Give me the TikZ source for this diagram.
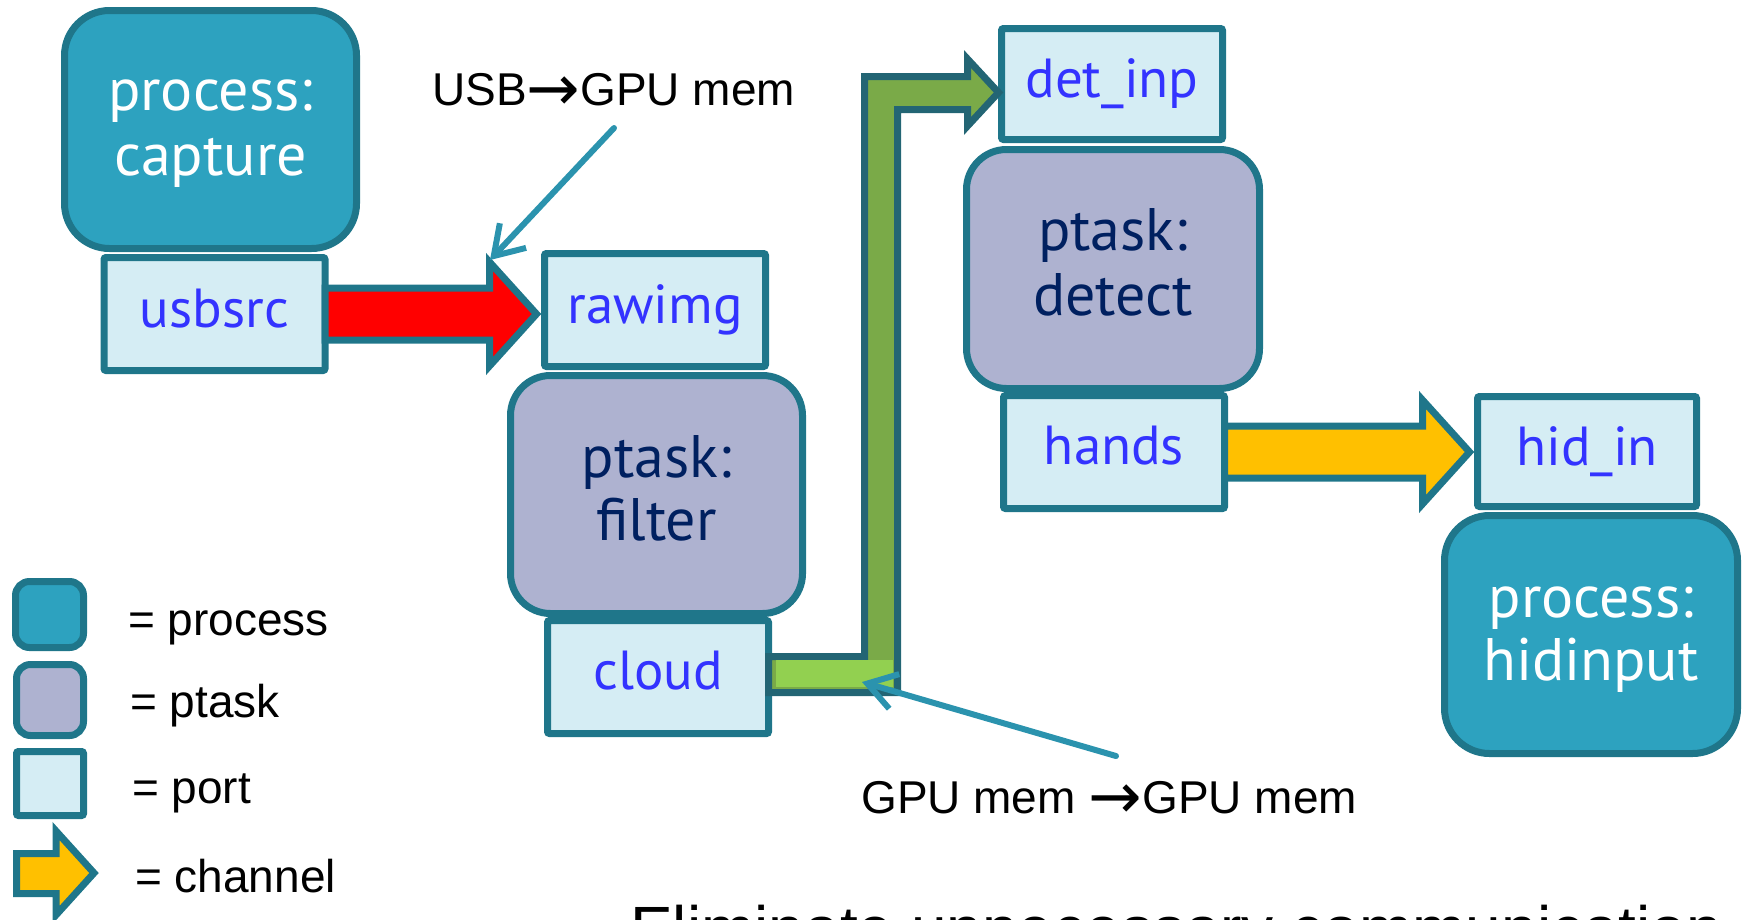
\documentclass[tikz,border=0pt]{standalone}
\usepackage{fontspec}
\usepackage{graphicx}
\setmainfont{Liberation Sans}
\newfontfamily\boxfont{PT Sans}
\newfontfamily\arrfont{DejaVu Sans}
\usetikzlibrary{calc,arrows.meta}
\definecolor{bordc}{HTML}{1F768A}
\definecolor{gbord}{HTML}{236574}
\definecolor{procc}{HTML}{2DA2BF}
\definecolor{taskc}{HTML}{AEB2D0}
\definecolor{portc}{HTML}{D5EDF4}
\definecolor{porttxt}{HTML}{3333FF}
\definecolor{tasktxt}{HTML}{002060}
\definecolor{chanorange}{HTML}{FFC000}
\definecolor{dgreen}{HTML}{7AAA48}
\definecolor{lgreen}{HTML}{92D050}
\definecolor{notec}{HTML}{2B93AE}
\newcommand{\bigarr}{{\arrfont\fontsize{64}{64}\selectfont\raisebox{-5pt}{→}}}
\tikzset{
  boxbase/.style={draw=bordc, line width=7pt, inner sep=0pt, outer sep=0pt},
  procbox/.style={boxbase, fill=procc, rounded corners=45pt, minimum width=292pt, minimum height=238pt},
  taskbox/.style={boxbase, fill=taskc, rounded corners=40pt, minimum width=292pt, minimum height=238pt},
  portbox/.style={boxbase, fill=portc, rounded corners=2pt, minimum width=221pt, minimum height=113pt},
  proctext/.style={anchor=base, inner sep=0pt, text=white, font=\boxfont\fontsize{60}{66}\selectfont},
  tasktext/.style={anchor=base, inner sep=0pt, text=tasktxt, font=\boxfont\fontsize{60}{66}\selectfont},
  porttext/.style={anchor=base, inner sep=0pt, text=porttxt, font=\boxfont\fontsize{55}{60}\selectfont},
  chan/.style={draw=bordc, line width=7pt, line join=miter},
  notearrow/.style={draw=notec, line width=6pt, line cap=round, line join=round, -{Straight Barb[length=28pt,width=36pt]}},
  notetext/.style={anchor=base west, inner sep=0pt, font=\fontsize{46}{55}\selectfont},
}
\newcommand{\chanarrow}[3]{%
  \draw[chan, fill=#1] let \p1=(#2.east), \p2=(#3.west) in
    (\x1, \y1+26pt) -- (\x2-55pt, \y1+26pt) -- (\x2-55pt, \y1+52pt) -- (\x2-8pt, \y1)
    -- (\x2-55pt, \y1-52pt) -- (\x2-55pt, \y1-26pt) -- (\x1, \y1-26pt) -- cycle;}
\begin{document}
\begin{tikzpicture}[x=1pt, y=-1pt]
\useasboundingbox (0,0) rectangle (1744,919);
\clip (0,0) rectangle (1744,919);

% process and ptask boxes
\node[procbox] (capture) at (210.5,129.5) {};
\node[taskbox] (filter) at (656.5,494.5) {};
\node[taskbox, minimum width=293pt, minimum height=239pt] (detect) at (1113,269) {};
\node[procbox, minimum width=293pt] (hidinput) at (1591,634.5) {};

% ports
\node[portbox] (usbsrc) at (214.5,314) {};
\node[portbox] (rawimg) at (655,310) {};
\node[portbox] (cloud) at (658,677) {};
\node[portbox, minimum height=111pt] (detinp) at (1112,84) {};
\node[portbox] (hands) at (1114,452) {};
\node[portbox, minimum width=219pt, minimum height=110pt] (hidin) at (1587,451.5) {};

% channels
\chanarrow{red}{usbsrc}{rawimg}
\chanarrow{chanorange}{hands}{hidin}
\draw[chan, draw=gbord, fill=dgreen] let \p1=(cloud.east), \p2=(detinp.west) in
  (\x1,-656.5pt) -- (864.5pt,-656.5pt) -- (864.5pt,-76.5pt) -- (\x2-34pt,-76.5pt)
  -- (\x2-34pt,-59pt) -- (\x2-3pt,-92.5pt) -- (\x2-34pt,-126pt) -- (\x2-34pt,-109.5pt)
  -- (897.5pt,-109.5pt) -- (897.5pt,-692.5pt) -- (\x1,-692.5pt) -- cycle;
\fill[lgreen] (776,660) rectangle (893,687);

% texts in boxes
\node[proctext] (captureA) at (210.5,110) {process:};
\node[proctext] (captureB) at (210.5,175) {capture};
\node[tasktext] (filterA) at (656.5,477) {ptask:};
\node[tasktext] (filterB) at (656.5,540) {filter};
\node[tasktext] (detectA) at (1113,250) {ptask:};
\node[tasktext] (detectB) at (1113,315) {detect};
\node[proctext] (hidinputA) at (1591,617) {process:};
\node[proctext] (hidinputB) at (1591,680) {hidinput};
\node[porttext] (usbsrcT) at (214.5,327) {usbsrc};
\node[porttext] (rawimgT) at (655,323) {rawimg};
\node[porttext] (cloudT) at (658,689) {cloud};
\node[porttext] (detinpT) at (1112,97) {det\_inp};
\node[porttext] (handsT) at (1114,464) {hands};
\node[porttext] (hidinT) at (1587,465) {hid\_in};

% annotations
\coordinate (usbA) at (614,128);
\coordinate (usbB) at (490,260);
\draw[notearrow] (usbA) -- (usbB);
\coordinate (gpuA) at (1116,756);
\coordinate (gpuB) at (862,682);
\draw[notearrow] (gpuA) -- (gpuB);
\node[notetext] (usbnote) at (432,105) {USB\bigarr GPU mem};
\node[notetext] (gpunote) at (861,813) {GPU mem \bigarr GPU mem};

% legend
\node[procbox, minimum width=68pt, minimum height=66pt, rounded corners=14pt] (legproc) at (49.5,614.5) {};
\node[taskbox, minimum width=67pt, minimum height=71pt, rounded corners=14pt] (legtask) at (50,700) {};
\node[portbox, minimum width=67pt, minimum height=64pt] (legport) at (50,783.5) {};
\draw[chan, fill=chanorange] (16.5,853.5) -- (56,853.5) -- (56,831) -- (94,873) -- (56,915)
  -- (56,893.5) -- (16.5,893.5) -- cycle;
\node[notetext] (legprocT) at (128,635) {= process};
\node[notetext] (legtaskT) at (130,717) {= ptask};
\node[notetext] (legportT) at (132,803) {= port};
\node[notetext] (legchanT) at (135,892) {= channel};

% bottom caption (cut off by the page edge)
\node[anchor=base west, inner sep=0pt, font=\fontsize{64}{72}\selectfont] (caption) at (630,951) {Eliminate unnecessary communication};
\end{tikzpicture}
\end{document}
